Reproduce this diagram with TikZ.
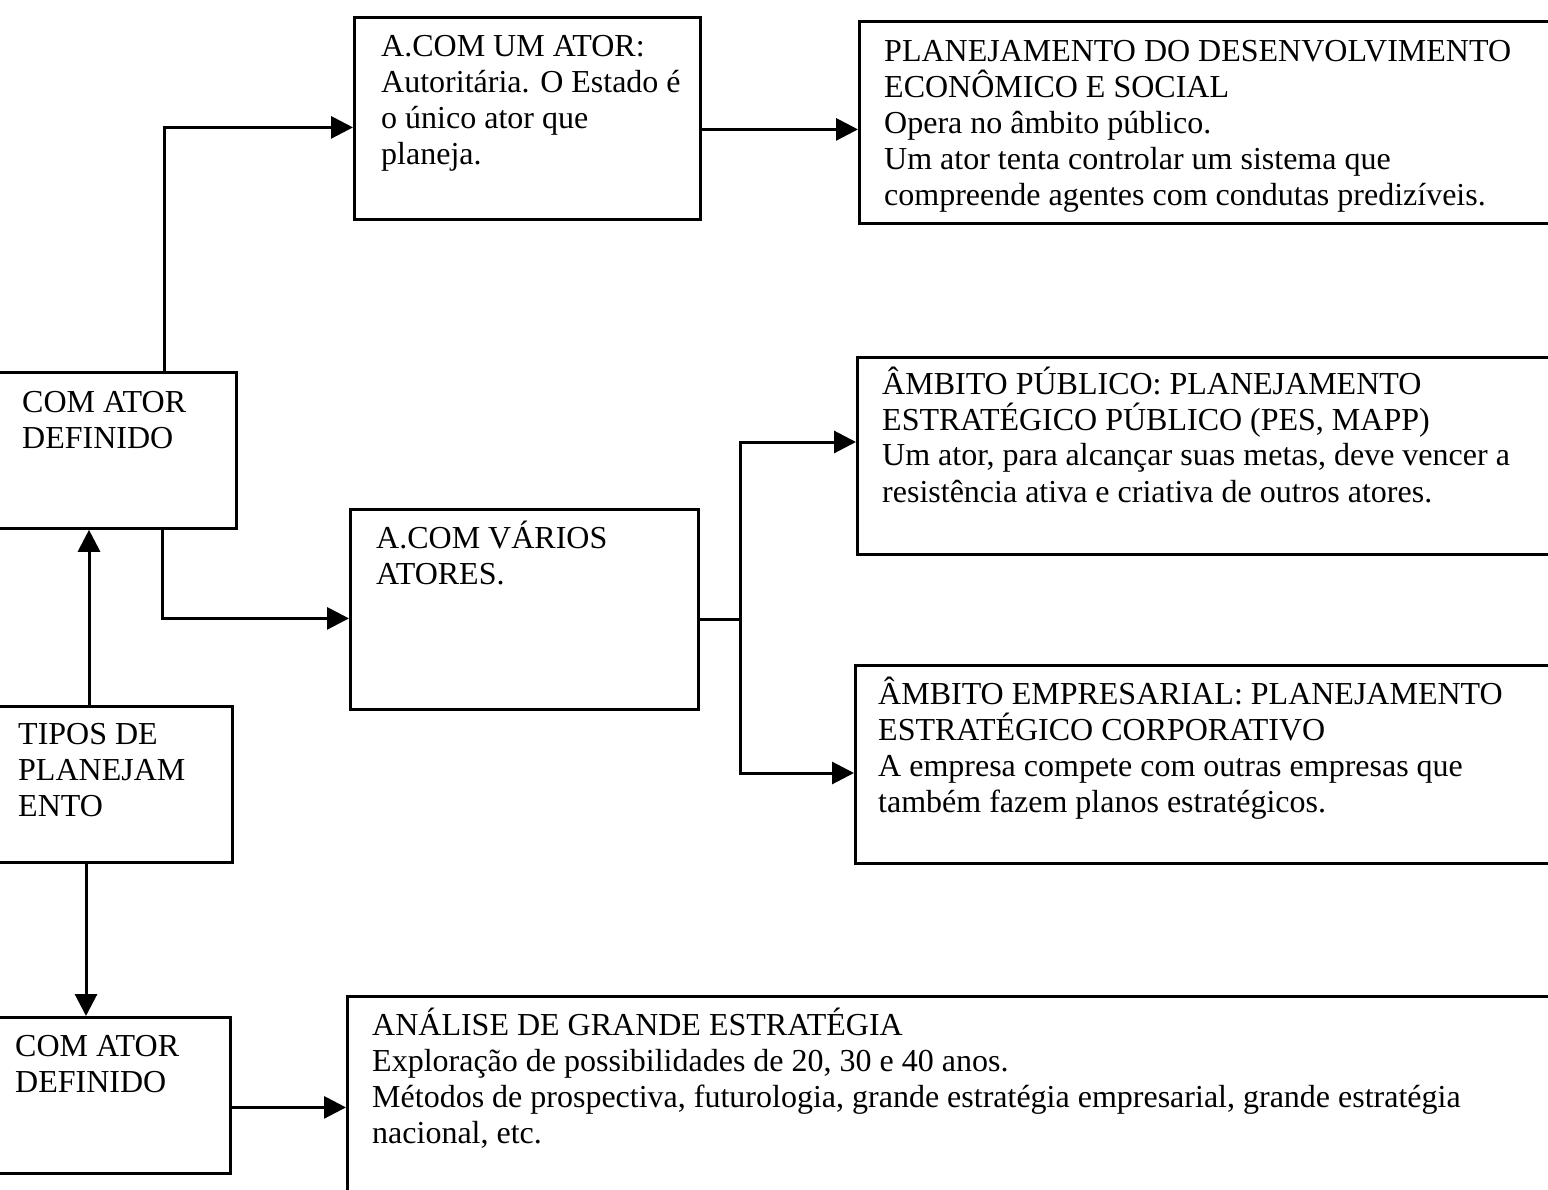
\documentclass[tikz,border=0pt]{standalone}
\usepackage{fontspec}
\setmainfont{Liberation Serif}
\usetikzlibrary{arrows.meta}

\tikzset{
  box/.style={draw=black, line width=2.8pt, inner sep=0pt, anchor=north west},
  txt/.style={inner sep=0pt, anchor=base west, font=\fontsize{32}{36}\selectfont},
  arr/.style={line width=3pt, -{Triangle[length=22pt,width=22pt]}},
  link/.style={line width=3pt}
}
\newcommand{\lines}[1]{\parbox[t]{1300pt}{\raggedright #1}}

\begin{document}
\begin{tikzpicture}[x=1pt,y=-1pt]
  \useasboundingbox (0,0) rectangle (1548,1190);
  \clip (0,0) rectangle (1548,1190);

  % boxes
  \node[box, minimum width=255pt, minimum height=156pt] (cat1) at (-20,371) {};
  \node[box, minimum width=251pt, minimum height=156pt] (tipos) at (-20,705) {};
  \node[box, minimum width=249pt, minimum height=156pt] (cat2) at (-20,1016) {};
  \node[box, minimum width=346pt, minimum height=202pt] (a1) at (353,16) {};
  \node[box, minimum width=348pt, minimum height=200pt] (var) at (349,508) {};
  \node[box, minimum width=720pt, minimum height=202pt] (plan) at (858,20) {};
  \node[box, minimum width=720pt, minimum height=197pt] (pub) at (856,356) {};
  \node[box, minimum width=720pt, minimum height=198pt] (emp) at (854,664) {};
  \node[box, minimum width=1230pt, minimum height=230pt] (ana) at (346,995) {};

  % texts
  \node[txt] (tcat1) at (22,412) {\lines{COM ATOR\\DEFINIDO}};
  \node[txt] (ttipos) at (18,744) {\lines{TIPOS DE\\PLANEJAM\\ENTO}};
  \node[txt] (tcat2) at (15,1056) {\lines{COM ATOR\\DEFINIDO}};
  \node[txt] (ta1) at (381,57) {\lines{A.COM UM ATOR:\\Autoritária. O Estado é\\o único ator que\\planeja.}};
  \node[txt] (tvar) at (376,548) {\lines{A.COM VÁRIOS\\ATORES.}};
  \node[txt] (tplan) at (884,62) {\lines{PLANEJAMENTO DO DESENVOLVIMENTO\\ECONÔMICO E SOCIAL\\Opera no âmbito público.\\Um ator tenta controlar um sistema que\\compreende agentes com condutas predizíveis.}};
  \node[txt] (tpub) at (882,394) {\lines{ÂMBITO PÚBLICO: PLANEJAMENTO\\ESTRATÉGICO PÚBLICO (PES, MAPP)\\Um ator, para alcançar suas metas, deve vencer a\\resistência ativa e criativa de outros atores.}};
  \node[txt] (temp) at (878,704) {\lines{ÂMBITO EMPRESARIAL: PLANEJAMENTO\\ESTRATÉGICO CORPORATIVO\\A empresa compete com outras empresas que\\também fazem planos estratégicos.}};
  \node[txt] (tana) at (372,1035) {\lines{ANÁLISE DE GRANDE ESTRATÉGIA\\Exploração de possibilidades de 20, 30 e 40 anos.\\Métodos de prospectiva, futurologia, grande estratégia empresarial, grande estratégia\\nacional, etc.}};

  % connectors
  \coordinate (c1out) at (164,371);
  \coordinate (c1low) at (162,527);
  \coordinate (tup) at (89,705);
  \coordinate (tdown) at (86,861);
  \coordinate (split) at (740,619);

  \draw[arr] (c1out) |- ([yshift=-9pt]a1.west);
  \draw[arr] (c1low) |- ([yshift=-9pt]var.west);
  \draw[arr] (tup) -- (tup |- cat1.south);
  \draw[arr] (tdown) -- (tdown |- cat2.north);
  \draw[arr] ([yshift=-12pt]cat2.east) -- ([yshift=-12pt]cat2.east -| ana.west);
  \draw[arr] ([yshift=-11pt]a1.east) -- ([yshift=-11pt]a1.east -| plan.west);
  \draw[link] (var.east |- split) -- (split);
  \draw[arr] (split) |- (pub.west |- 0,442);
  \draw[arr] (split) |- (emp.west |- 0,773);
\end{tikzpicture}
\end{document}
